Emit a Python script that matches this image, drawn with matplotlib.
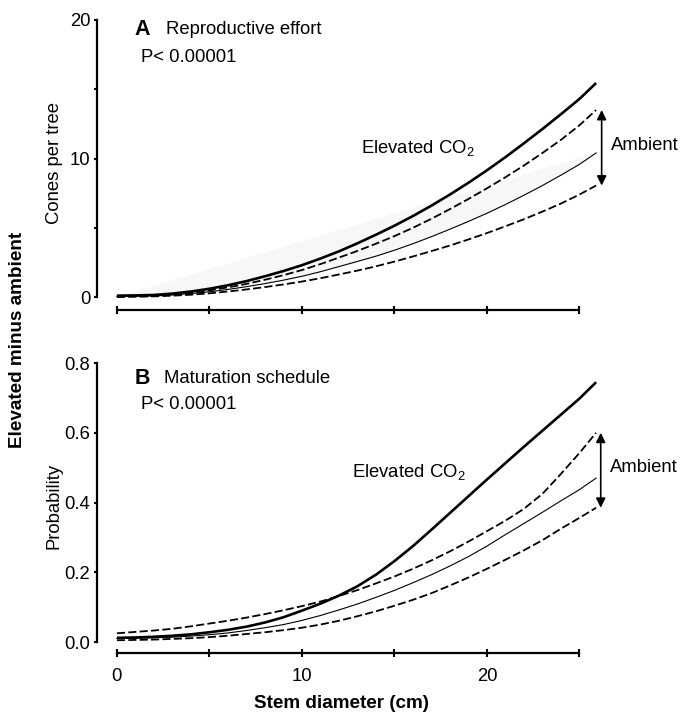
import matplotlib
matplotlib.use("Agg")
import matplotlib.pyplot as plt

plt.rcParams['font.family'] = ['Liberation Sans', 'DejaVu Sans']
plt.rcParams['mathtext.fontset'] = 'custom'
plt.rcParams['mathtext.rm'] = 'Liberation Sans'
plt.rcParams['mathtext.default'] = 'regular'

# ---- data ----
diam = [0, 1, 2, 3, 4, 5, 6, 7, 8, 9, 10, 11, 12, 13, 14, 15, 16, 17, 18, 19,
        20, 21, 22, 23, 24, 25, 25.9]

cones_elev = [0.1, 0.12, 0.15, 0.25, 0.4, 0.6, 0.85, 1.15, 1.5, 1.88, 2.3, 2.78, 3.3,
              3.88, 4.5, 5.15, 5.85, 6.6, 7.4, 8.25, 9.15, 10.1, 11.1, 12.13, 13.2,
              14.3, 15.45]
cones_amb_hi = [0.05, 0.07, 0.1, 0.18, 0.3, 0.48, 0.7, 0.95, 1.25, 1.58, 1.95, 2.38,
                2.85, 3.33, 3.85, 4.4, 5.0, 5.65, 6.35, 7.08, 7.85, 8.65, 9.5, 10.4,
                11.35, 12.4, 13.5]
cones_amb = [0.05, 0.06, 0.08, 0.15, 0.25, 0.38, 0.55, 0.75, 0.97, 1.22, 1.5, 1.83,
             2.2, 2.57, 2.95, 3.38, 3.85, 4.36, 4.9, 5.46, 6.05, 6.68, 7.35, 8.05,
             8.8, 9.58, 10.4]
cones_amb_lo = [0.0, 0.02, 0.05, 0.1, 0.17, 0.27, 0.4, 0.55, 0.72, 0.91, 1.12, 1.36,
                1.63, 1.91, 2.22, 2.56, 2.93, 3.32, 3.72, 4.16, 4.62, 5.11, 5.62,
                6.17, 6.75, 7.4, 8.05]

shade_x = [0, 25.9]
shade_top = [0, 10.4]

prob_elev = [0.012, 0.013, 0.015, 0.018, 0.022, 0.028, 0.035, 0.044, 0.056, 0.071,
             0.09, 0.11, 0.133, 0.16, 0.193, 0.232, 0.275, 0.322, 0.37, 0.418, 0.466,
             0.513, 0.56, 0.606, 0.652, 0.698, 0.745]
prob_amb_hi = [0.025, 0.029, 0.033, 0.038, 0.045, 0.053, 0.061, 0.07, 0.08, 0.091,
               0.103, 0.116, 0.132, 0.149, 0.168, 0.188, 0.21, 0.234, 0.26, 0.288,
               0.318, 0.348, 0.382, 0.425, 0.482, 0.542, 0.60]
prob_amb = [0.01, 0.011, 0.012, 0.014, 0.017, 0.021, 0.026, 0.033, 0.041, 0.05,
            0.062, 0.076, 0.092, 0.109, 0.128, 0.148, 0.17, 0.193, 0.218, 0.245,
            0.275, 0.308, 0.34, 0.372, 0.405, 0.437, 0.47]
prob_amb_lo = [0.005, 0.006, 0.007, 0.009, 0.011, 0.014, 0.018, 0.023, 0.028, 0.034,
               0.041, 0.05, 0.061, 0.074, 0.088, 0.104, 0.121, 0.14, 0.162, 0.185,
               0.21, 0.236, 0.263, 0.292, 0.325, 0.356, 0.385]

xticks = [0, 5, 10, 15, 20, 25]
xticklabels = ['0', '', '10', '', '20', '']
yticksA = [0, 5, 10, 15, 20]
yticklabelsA = ['0', '', '10', '', '20']
yticksB = [0.0, 0.2, 0.4, 0.6, 0.8]
yticklabelsB = ['0.0', '0.2', '0.4', '0.6', '0.8']

fig = plt.figure(figsize=(6.83, 7.13), dpi=100)
axA = fig.add_axes([0.1414, 0.5649, 0.8018, 0.4129])
axB = fig.add_axes([0.1414, 0.0839, 0.8018, 0.4143])

FS = 13.3
FSB = 13.6

def style(ax, ylim, yticks, yticklabels, xlabels):
    ax.set_xlim(-1.1, 28.5)
    ax.set_ylim(*ylim)
    for s in ['top', 'right']:
        ax.spines[s].set_visible(False)
    ax.spines['left'].set_bounds(yticks[0], yticks[-1])
    ax.spines['bottom'].set_bounds(0, 25)
    ax.spines['left'].set_linewidth(1.6)
    ax.spines['bottom'].set_linewidth(1.6)
    ax.set_xticks(xticks)
    ax.set_xticklabels(xlabels if xlabels else [''] * len(xticks), fontsize=FS)
    ax.set_yticks(yticks)
    ax.set_yticklabels(yticklabels, fontsize=FS)
    ax.tick_params(axis='y', direction='out', length=2.5, width=1.5, pad=2)
    ax.tick_params(axis='x', direction='inout', length=6, width=1.5, pad=8)

def draw(ax, elev, hi, mid, lo):
    ax.plot(diam, elev, color='black', lw=1.9, solid_capstyle='butt', clip_on=False)
    ax.plot(diam, hi, color='black', lw=1.3, dashes=(4.5, 1.8), clip_on=False)
    ax.plot(diam, mid, color='black', lw=0.8, clip_on=False)
    ax.plot(diam, lo, color='black', lw=1.3, dashes=(4.5, 1.8), clip_on=False)

def arrow(ax, x, top, bottom):
    ax.annotate('', xy=(x, top), xytext=(x, bottom),
                arrowprops=dict(arrowstyle='<|-|>', color='black', lw=1.2,
                                mutation_scale=14, shrinkA=0, shrinkB=0),
                annotation_clip=False)

# Panel A
axA.fill(shade_x + diam[::-1], shade_top + cones_amb[::-1], color='#f7f7f7', lw=0, zorder=0)
draw(axA, cones_elev, cones_amb_hi, cones_amb, cones_amb_lo)
style(axA, (-0.95, 20.3), yticksA, yticklabelsA, None)
axA.set_ylabel('Cones per tree', fontsize=FS)
axA.yaxis.set_label_coords(-0.062, 0.5)
axA.text(0.95, 19.3, 'A', fontsize=15.5, fontweight='bold', va='center', ha='left')
axA.text(2.65, 19.3, 'Reproductive effort', fontsize=FS, va='center', ha='left')
axA.text(1.3, 17.3, 'P< 0.00001', fontsize=FS, va='center', ha='left')
axA.text(13.2, 10.76, 'Elevated CO$_2$', fontsize=FS, va='center', ha='left')
axA.text(26.7, 10.97, 'Ambient', fontsize=FS, va='center', ha='left', clip_on=False)
arrow(axA, 26.2, cones_amb_hi[-1], cones_amb_lo[-1])

# Panel B
draw(axB, prob_elev, prob_amb_hi, prob_amb, prob_amb_lo)
style(axB, (-0.032, 0.815), yticksB, yticklabelsB, xticklabels)
axB.set_ylabel('Probability', fontsize=FS)
axB.yaxis.set_label_coords(-0.062, 0.5)
axB.text(0.95, 0.757, 'B', fontsize=15.5, fontweight='bold', va='center', ha='left')
axB.text(2.54, 0.757, 'Maturation schedule', fontsize=FS, va='center', ha='left')
axB.text(1.3, 0.68, 'P< 0.00001', fontsize=FS, va='center', ha='left')
axB.text(12.7, 0.487, 'Elevated CO$_2$', fontsize=FS, va='center', ha='left')
axB.text(26.65, 0.499, 'Ambient', fontsize=FS, va='center', ha='left', clip_on=False)
arrow(axB, 26.15, prob_amb_hi[-1], prob_amb_lo[-1])

fig.text(342 / 683, 1 - 703 / 713, 'Stem diameter (cm)', fontsize=FSB, fontweight='bold',
         ha='center', va='center')
fig.text(18 / 683, 1 - 340 / 713, 'Elevated minus ambient', fontsize=FSB, fontweight='bold',
         ha='center', va='center', rotation=90)

fig.savefig('out.png', dpi=100)
